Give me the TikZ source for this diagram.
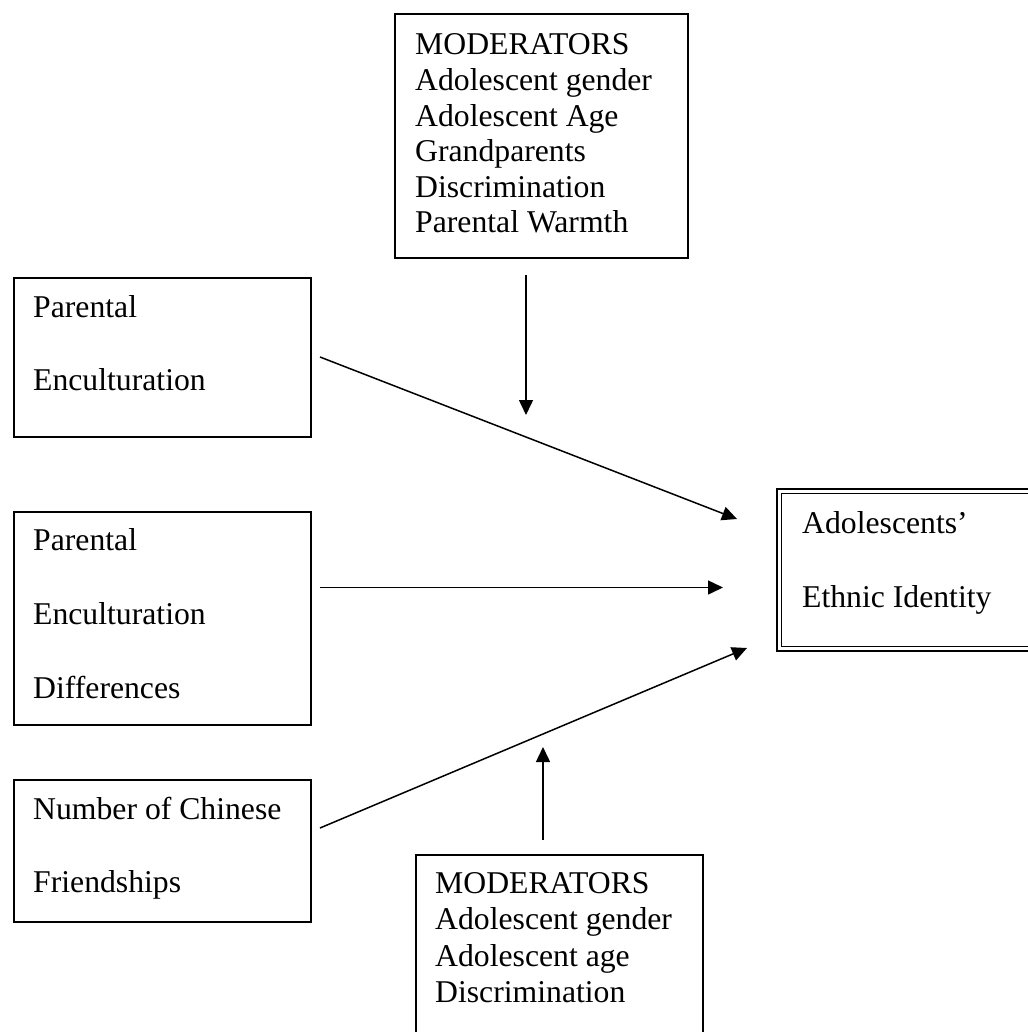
\documentclass[tikz,border=0pt]{standalone}
\usepackage{fontspec}
\setmainfont{Liberation Serif}
\usetikzlibrary{arrows.meta}
\begin{document}
\begin{tikzpicture}[x=1pt,y=-1pt,
  box/.style={draw=black, line width=1.6pt, rectangle, inner sep=0pt, anchor=north west},
  dbox/.style={draw=black, line width=1.5pt, double=white, double distance=2.6pt, rectangle, inner sep=0pt, anchor=north west},
  lbl/.style={anchor=base west, inner sep=0pt, font=\fontsize{31.7}{36}\selectfont},
  arr/.style={line width=1.5pt, -{Triangle[length=15pt,width=14pt]}}]
\useasboundingbox (0,0) rectangle (1027,1032);

% boxes
\node[box, minimum width=293pt, minimum height=244pt] (top) at (394,13) {};
\node[box, minimum width=297pt, minimum height=159pt] (pe) at (13,277) {};
\node[box, minimum width=297pt, minimum height=213pt] (ped) at (13,511) {};
\node[box, minimum width=297pt, minimum height=142pt] (ncf) at (13,779) {};
\node[box, minimum width=287pt, minimum height=200pt] (bot) at (415,854) {};
\node[dbox, minimum width=270pt, minimum height=157.5pt] (ei) at (778.5,490.5) {};

% texts
\node[lbl] (top1) at (415,55) {MODERATORS};
\node[lbl] (top2) at (415,90.6) {Adolescent gender};
\node[lbl] (top3) at (415,126.2) {Adolescent Age};
\node[lbl] (top4) at (415,161.8) {Grandparents};
\node[lbl] (top5) at (415,197.4) {Discrimination};
\node[lbl] (top6) at (415,233) {Parental Warmth};

\node[lbl] (pe1) at (33,317) {Parental};
\node[lbl] (pe2) at (33,390) {Enculturation};

\node[lbl] (ped1) at (33,550) {Parental};
\node[lbl] (ped2) at (33,624) {Enculturation};
\node[lbl] (ped3) at (33,698) {Differences};

\node[lbl] (ncf1) at (33,819) {Number of Chinese};
\node[lbl] (ncf2) at (33,892) {Friendships};

\node[lbl] (bot1) at (435,893) {MODERATORS};
\node[lbl] (bot2) at (435,929.5) {Adolescent gender};
\node[lbl] (bot3) at (435,966) {Adolescent age};
\node[lbl] (bot4) at (435,1002.5) {Discrimination};

\node[lbl] (ei1) at (802,533) {Adolescents’};
\node[lbl] (ei2) at (802,607) {Ethnic Identity};

% connector ends
\coordinate (peS) at (320,357);
\coordinate (peE) at (737,519);
\coordinate (pedS) at (320,587.5);
\coordinate (pedE) at (723,587.5);
\coordinate (ncfS) at (320,828);
\coordinate (ncfE) at (747,648);
\coordinate (topS) at (526,275);
\coordinate (topE) at (526,415);
\coordinate (botS) at (543,840);
\coordinate (botE) at (543,747);

\draw[arr] (peS) -- (peE);
\draw[arr] (pedS) -- (pedE);
\draw[arr] (ncfS) -- (ncfE);
\draw[arr] (topS) -- (topE);
\draw[arr] (botS) -- (botE);
\end{tikzpicture}
\end{document}
